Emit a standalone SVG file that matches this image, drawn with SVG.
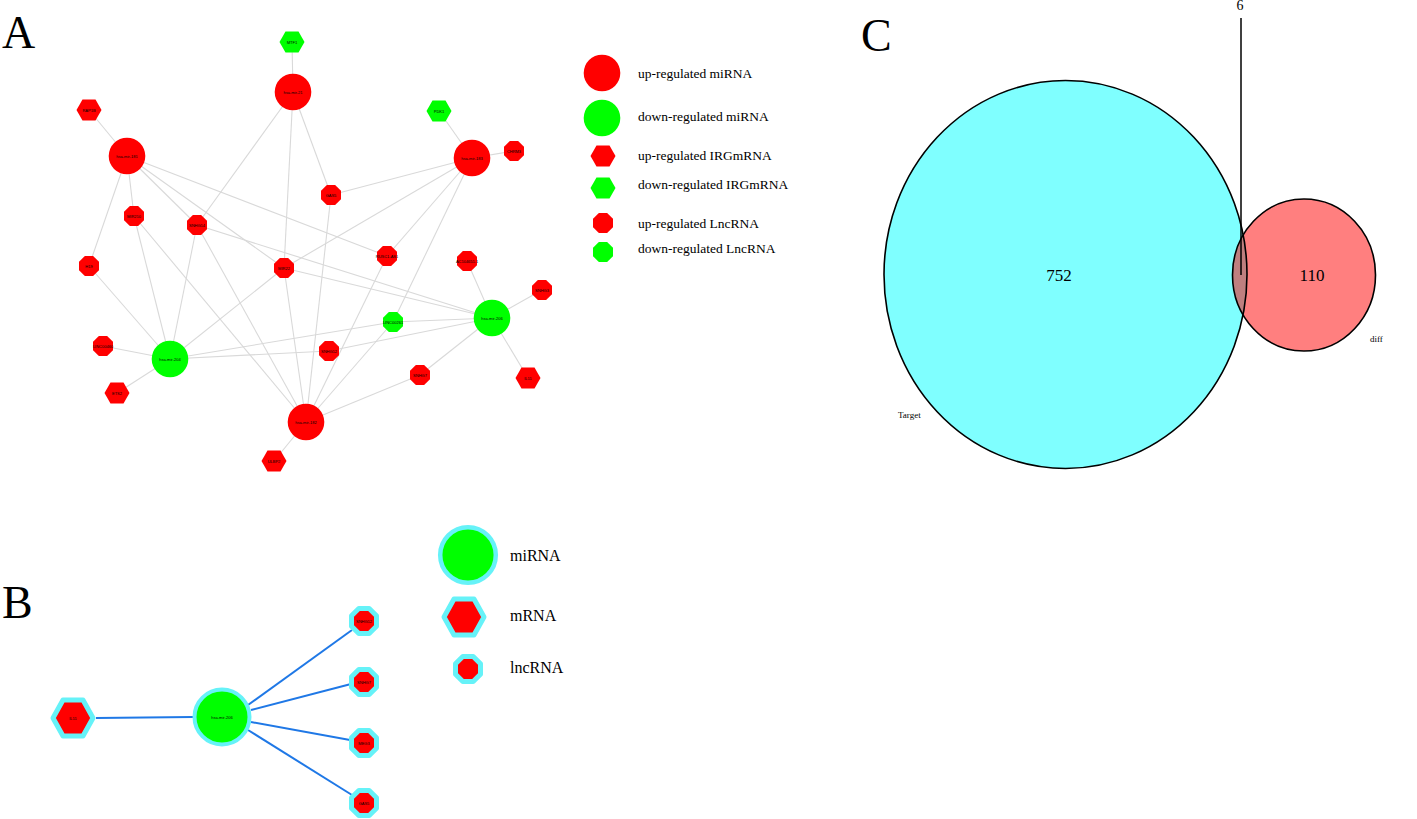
<svg xmlns="http://www.w3.org/2000/svg" xmlns:xlink="http://www.w3.org/1999/xlink" width="1417" height="819" viewBox="0 0 1417 819">
<defs>
<style>
.e{stroke:#d9d9d9;stroke-width:1.1;fill:none}
.eb{stroke:#1f78e6;stroke-width:2;fill:none}
.r{fill:#ff0000}
.g{fill:#00ff00}
.nl{font-family:"Liberation Sans",Arial,sans-serif;font-size:4px;fill:#000;text-anchor:middle;dominant-baseline:central}
.lg{font-family:"Liberation Serif","Times New Roman",serif;font-size:13.5px;fill:#000}
.lgb{font-family:"Liberation Serif","Times New Roman",serif;font-size:16px;fill:#000}
.pl{font-family:"Liberation Serif","Times New Roman",serif;font-size:46px;fill:#000}
.vn{font-family:"Liberation Serif","Times New Roman",serif;font-size:17px;fill:#000;text-anchor:middle}
.vs{font-family:"Liberation Serif","Times New Roman",serif;font-size:9px;fill:#000}
.ring{stroke:#66f2f8;stroke-width:5;stroke-linejoin:round}
</style>
<polygon id="hex" points="-12.5,0 -6.5,-10.5 6.5,-10.5 12.5,0 6.5,10.5 -6.5,10.5"/>
<polygon id="oct" points="-10,-4.14 -4.14,-10 4.14,-10 10,-4.14 10,4.14 4.14,10 -4.14,10 -10,4.14"/>
<polygon id="hexB" points="-20,0 -10,-18 10,-18 20,0 10,18 -10,18"/>
<polygon id="octB" points="-12.5,-5.18 -5.18,-12.5 5.18,-12.5 12.5,-5.18 12.5,5.18 5.18,12.5 -5.18,12.5 -12.5,5.18"/>
</defs>
<rect width="1417" height="819" fill="#fff"/>

<!-- Panel labels -->
<text class="pl" x="2" y="48">A</text>
<text class="pl" x="2" y="618">B</text>
<text class="pl" x="861" y="51">C</text>

<!-- Panel A connectors -->
<g id="connectors-A">
<line class="e" x1="293" y1="92" x2="292" y2="42"/>
<line class="e" x1="293" y1="92" x2="197" y2="225"/>
<line class="e" x1="293" y1="92" x2="284" y2="268"/>
<line class="e" x1="293" y1="92" x2="331" y2="195"/>
<line class="e" x1="127" y1="156" x2="89" y2="110"/>
<line class="e" x1="127" y1="156" x2="134" y2="216"/>
<line class="e" x1="127" y1="156" x2="89" y2="266"/>
<line class="e" x1="127" y1="156" x2="197" y2="225"/>
<line class="e" x1="127" y1="156" x2="284" y2="268"/>
<line class="e" x1="127" y1="156" x2="387" y2="256"/>
<line class="e" x1="472" y1="158" x2="439" y2="111"/>
<line class="e" x1="472" y1="158" x2="514" y2="151"/>
<line class="e" x1="472" y1="158" x2="331" y2="195"/>
<line class="e" x1="472" y1="158" x2="284" y2="268"/>
<line class="e" x1="472" y1="158" x2="387" y2="256"/>
<line class="e" x1="472" y1="158" x2="393" y2="322"/>
<line class="e" x1="170" y1="359" x2="89" y2="266"/>
<line class="e" x1="170" y1="359" x2="134" y2="216"/>
<line class="e" x1="170" y1="359" x2="197" y2="225"/>
<line class="e" x1="170" y1="359" x2="284" y2="268"/>
<line class="e" x1="170" y1="359" x2="393" y2="322"/>
<line class="e" x1="170" y1="359" x2="329" y2="351"/>
<line class="e" x1="170" y1="359" x2="103" y2="346"/>
<line class="e" x1="170" y1="359" x2="117" y2="393"/>
<line class="e" x1="492" y1="318" x2="467" y2="261"/>
<line class="e" x1="492" y1="318" x2="542" y2="290"/>
<line class="e" x1="492" y1="318" x2="528" y2="378"/>
<line class="e" x1="492" y1="318" x2="393" y2="322"/>
<line class="e" x1="492" y1="318" x2="420" y2="375"/>
<line class="e" x1="492" y1="318" x2="329" y2="351"/>
<line class="e" x1="492" y1="318" x2="284" y2="268"/>
<line class="e" x1="492" y1="318" x2="197" y2="225"/>
<line class="e" x1="306" y1="422" x2="134" y2="216"/>
<line class="e" x1="306" y1="422" x2="197" y2="225"/>
<line class="e" x1="306" y1="422" x2="284" y2="268"/>
<line class="e" x1="306" y1="422" x2="331" y2="195"/>
<line class="e" x1="306" y1="422" x2="387" y2="256"/>
<line class="e" x1="306" y1="422" x2="393" y2="322"/>
<line class="e" x1="306" y1="422" x2="420" y2="375"/>
<line class="e" x1="306" y1="422" x2="274" y2="461"/>
</g>

<!-- Panel A nodes -->
<g id="M1"><circle class="r" cx="293" cy="92" r="18.3"/><text class="nl" x="293" y="92">hsa-mir-21</text></g>
<g id="M2"><circle class="r" cx="127" cy="156" r="18.3"/><text class="nl" x="127" y="156">hsa-mir-181</text></g>
<g id="M3"><circle class="r" cx="472" cy="158" r="18.3"/><text class="nl" x="472" y="158">hsa-mir-183</text></g>
<g id="M4"><circle class="g" cx="170" cy="359" r="18.3"/><text class="nl" x="170" y="359">hsa-mir-204</text></g>
<g id="M5"><circle class="g" cx="492" cy="318" r="18.3"/><text class="nl" x="492" y="318">hsa-mir-206</text></g>
<g id="M6"><circle class="r" cx="306" cy="422" r="18.3"/><text class="nl" x="306" y="422">hsa-mir-182</text></g>

<g id="H1"><use href="#hex" class="g" x="292" y="42"/><text class="nl" x="292" y="42">MTF1</text></g>
<g id="H2"><use href="#hex" class="r" x="89" y="110"/><text class="nl" x="89" y="110">RAP1B</text></g>
<g id="H3"><use href="#hex" class="g" x="439" y="111"/><text class="nl" x="439" y="111">PDK1</text></g>
<g id="H4"><use href="#hex" class="r" x="117" y="393"/><text class="nl" x="117" y="393">ETS2</text></g>
<g id="H5"><use href="#hex" class="r" x="528" y="378"/><text class="nl" x="528" y="378">IL11</text></g>
<g id="H6"><use href="#hex" class="r" x="274" y="461"/><text class="nl" x="274" y="461">ULBP2</text></g>

<g id="O1"><use href="#oct" class="r" x="514" y="151"/><text class="nl" x="514" y="151">CHRM3</text></g>
<g id="O2"><use href="#oct" class="r" x="331" y="195"/><text class="nl" x="331" y="195">GAS5</text></g>
<g id="O3"><use href="#oct" class="r" x="134" y="216"/><text class="nl" x="134" y="216">MIR210</text></g>
<g id="O4"><use href="#oct" class="r" x="197" y="225"/><text class="nl" x="197" y="225">SNHG14</text></g>
<g id="O5"><use href="#oct" class="r" x="89" y="266"/><text class="nl" x="89" y="266">H19</text></g>
<g id="O6"><use href="#oct" class="r" x="284" y="268"/><text class="nl" x="284" y="268">MIR22</text></g>
<g id="O7"><use href="#oct" class="r" x="387" y="256"/><text class="nl" x="387" y="256">RUSC1-AS1</text></g>
<g id="O8"><use href="#oct" class="r" x="467" y="261"/><text class="nl" x="467" y="261">AC104651.1</text></g>
<g id="O9"><use href="#oct" class="r" x="542" y="290"/><text class="nl" x="542" y="290">SNHG3</text></g>
<g id="G1"><use href="#oct" class="g" x="393" y="322"/><text class="nl" x="393" y="322">LINC00261</text></g>
<g id="O10"><use href="#oct" class="r" x="103" y="346"/><text class="nl" x="103" y="346">LINC00460</text></g>
<g id="O11"><use href="#oct" class="r" x="329" y="351"/><text class="nl" x="329" y="351">SNHG12</text></g>
<g id="O12"><use href="#oct" class="r" x="420" y="375"/><text class="nl" x="420" y="375">SNHG7</text></g>

<!-- Panel A legend -->
<g id="legendA">
<circle class="r" cx="602" cy="73" r="18.3"/>
<text class="lg" x="638" y="77.5">up-regulated miRNA</text>
<circle class="g" cx="602" cy="118" r="18.3"/>
<text class="lg" x="638" y="121">down-regulated miRNA</text>
<use href="#hex" class="r" x="603" y="156"/>
<text class="lg" x="638" y="160">up-regulated IRGmRNA</text>
<use href="#hex" class="g" x="603" y="188"/>
<text class="lg" x="638" y="189">down-regulated IRGmRNA</text>
<use href="#oct" class="r" x="603" y="223"/>
<text class="lg" x="638" y="228">up-regulated LncRNA</text>
<use href="#oct" class="g" x="603" y="252"/>
<text class="lg" x="638" y="253">down-regulated LncRNA</text>
</g>

<!-- Panel B connectors -->
<g id="connectors-B">
<line class="eb" x1="96" y1="718" x2="193" y2="717"/>
<line class="eb" x1="248" y1="705" x2="352" y2="630"/>
<line class="eb" x1="251" y1="710" x2="351" y2="684"/>
<line class="eb" x1="251" y1="722" x2="350" y2="740"/>
<line class="eb" x1="248" y1="730" x2="352" y2="795"/>
</g>

<!-- Panel B nodes -->
<g id="B-IL11"><use href="#hexB" class="r ring" x="73" y="718"/><text class="nl" x="73" y="718">IL11</text></g>
<g id="B-mir206"><circle class="g ring" cx="222" cy="717" r="27.5" style="stroke-width:4"/><text class="nl" x="222" y="717">hsa-mir-206</text></g>
<g id="B-L1"><use href="#octB" class="r ring" x="364" y="621"/><text class="nl" x="364" y="621">SNHG12</text></g>
<g id="B-L2"><use href="#octB" class="r ring" x="364" y="682"/><text class="nl" x="364" y="682">SNHG7</text></g>
<g id="B-L3"><use href="#octB" class="r ring" x="364" y="743"/><text class="nl" x="364" y="743">MEG3</text></g>
<g id="B-L4"><use href="#octB" class="r ring" x="364" y="803"/><text class="nl" x="364" y="803">GAS5</text></g>

<!-- Panel B legend -->
<g id="legendB">
<circle class="g ring" cx="468" cy="555" r="27.8" style="stroke-width:4.5"/>
<text class="lgb" x="510" y="561">miRNA</text>
<use href="#hexB" class="r ring" x="464" y="617"/>
<text class="lgb" x="510" y="621">mRNA</text>
<use href="#octB" class="r ring" x="468" y="669"/>
<text class="lgb" x="510" y="673">lncRNA</text>
</g>

<!-- Panel C Venn -->
<g id="venn">
<ellipse cx="1065.5" cy="274.5" rx="181.5" ry="194" fill="#00ffff" fill-opacity="0.5"/>
<ellipse cx="1304" cy="275" rx="71.5" ry="76" fill="#ff0000" fill-opacity="0.5"/>
<ellipse cx="1065.5" cy="274.5" rx="181.5" ry="194" fill="none" stroke="#000" stroke-width="1.6"/>
<ellipse cx="1304" cy="275" rx="71.5" ry="76" fill="none" stroke="#000" stroke-width="1.6"/>
<line x1="1241" y1="18" x2="1241" y2="275" stroke="#000" stroke-width="1.5"/>
<text class="vn" x="1059" y="281">752</text>
<text class="vn" x="1312" y="281">110</text>
<text class="vn" x="1240" y="10" style="font-size:14px">6</text>
<text class="vs" x="898" y="418">Target</text>
<text class="vs" x="1370" y="342">diff</text>
</g>
</svg>
